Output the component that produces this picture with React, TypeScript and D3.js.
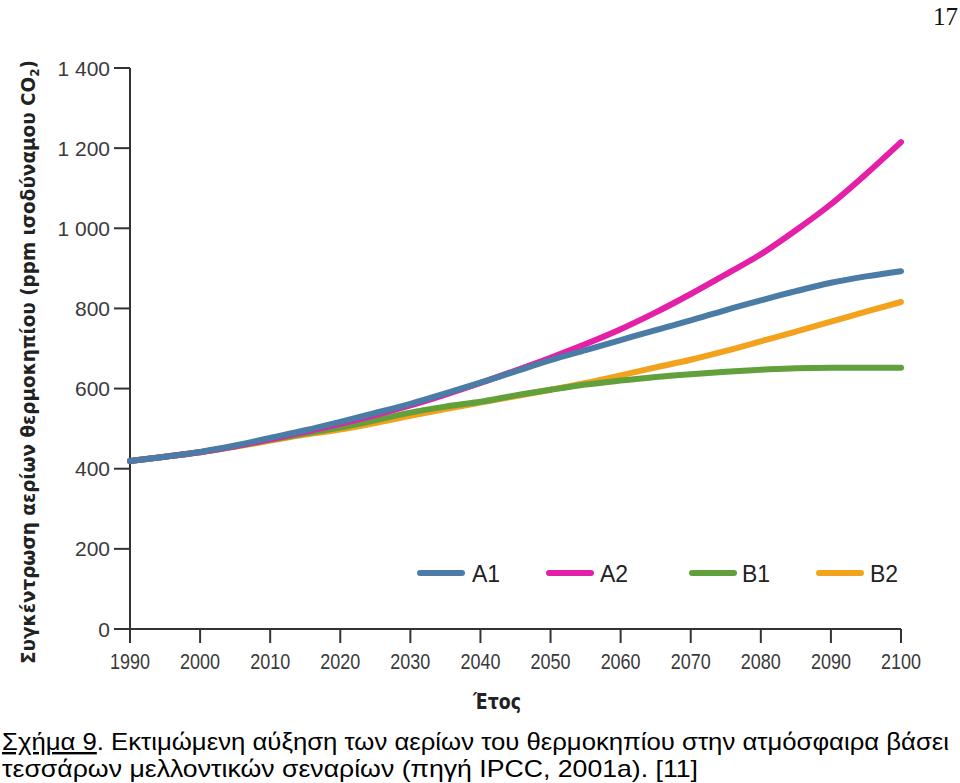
import React from "react";
import * as d3 from "d3";

const years = [1990, 1995, 2000, 2005, 2010, 2015, 2020, 2025, 2030, 2035, 2040, 2045, 2050, 2055, 2060, 2065, 2070, 2075, 2080, 2085, 2090, 2095, 2100];
const a1 = [419, 430, 442, 458, 477, 496, 517, 539, 562, 588, 615, 643, 671, 696, 721, 746, 770, 796, 820, 843, 864, 880, 893];
const a2 = [419, 430, 441, 456, 474, 492, 512, 534, 558, 585, 614, 645, 677, 711, 748, 790, 836, 885, 935, 995, 1060, 1135, 1215];
const b1 = [419, 430, 441, 456, 472, 488, 503, 521, 540, 555, 567, 583, 597, 610, 620, 629, 636, 642, 647, 651, 652, 652, 652];
const b2 = [419, 430, 441, 455, 470, 485, 498, 514, 532, 549, 565, 581, 597, 614, 633, 653, 672, 694, 718, 742, 767, 792, 816];

const seriesNames = ["A1", "A2", "B1", "B2"];
const seriesColors = ["#4a7ca6", "#e520a8", "#62a03c", "#f3a21e"];
const seriesValues = [a1, a2, b1, b2];
const drawOrder = [3, 2, 1, 0];

const xTicks = [1990, 2000, 2010, 2020, 2030, 2040, 2050, 2060, 2070, 2080, 2090, 2100];
const yTicks = [0, 200, 400, 600, 800, 1000, 1200, 1400];

const yTitle = "Συγκέντρωση αερίων θερμοκηπίου (ppm ισοδύναμου CO";
const xTitle = "Έτος";
const captionA = "Σχήμα 9";
const captionB = ". Εκτιμώμενη αύξηση των αερίων του θερμοκηπίου στην ατμόσφαιρα βάσει";
const captionLine2 = "τεσσάρων μελλοντικών σεναρίων (πηγή IPCC, 2001a). [11]";
const pageNumber = "17";

const legendPos = [
  { x1: 420, x2: 462, tx: 472 },
  { x1: 549, x2: 591, tx: 600 },
  { x1: 692, x2: 734, tx: 742 },
  { x1: 819, x2: 861, tx: 870 },
];

export default function App() {
  const x = d3.scaleLinear().domain([1990, 2100]).range([130, 901]);
  const y = d3.scaleLinear().domain([0, 1400]).range([629, 68]);
  const fmt = d3
    .formatLocale({ thousands: " ", grouping: [3], decimal: ",", currency: ["", ""] })
    .format(",");
  const line = d3
    .line<number>()
    .x((_, i) => x(years[i]))
    .y((d) => y(d))
    .curve(d3.curveMonotoneX);

  const axisColor = "#333";
  return (
    <svg
      width={960}
      height={783}
      style={{ position: "absolute", left: 0, top: 0, background: "#fff" }}
    >
      <rect x={0} y={0} width={960} height={783} fill="#fff" />
      {/* page number */}
      <text x={958} y={25} textAnchor="end" fontFamily="Liberation Serif, serif" fontSize={25} fill="#111">
        {pageNumber}
      </text>

      {/* y axis title */}
      <text
        transform="translate(35,362) rotate(-90)"
        textAnchor="middle"
        fontFamily="DejaVu Sans, sans-serif"
        fontWeight="bold"
        fontSize={20}
        fill="#222"
        textLength={604}
        lengthAdjust="spacingAndGlyphs"
      >
        {yTitle}
        <tspan fontSize={13} dy={4}>2</tspan>
        <tspan dy={-4}>)</tspan>
      </text>

      {/* axes */}
      <line x1={130} x2={130} y1={y(1400)} y2={y(0)} stroke={axisColor} strokeWidth={2} />
      <line x1={130} x2={901} y1={y(0)} y2={y(0)} stroke={axisColor} strokeWidth={2} />
      {yTicks.map((t) => (
        <g key={t}>
          <line x1={114} x2={130} y1={y(t)} y2={y(t)} stroke={axisColor} strokeWidth={2} />
          <text
            x={110}
            y={y(t)}
            dy="0.36em"
            textAnchor="end"
            fontFamily="Liberation Sans, Arial, sans-serif"
            fontSize={21}
            fill="#3a3a3a"
          >
            {fmt(t)}
          </text>
        </g>
      ))}
      {xTicks.map((t) => (
        <g key={t}>
          <line x1={x(t)} x2={x(t)} y1={y(0)} y2={y(0) + 14} stroke={axisColor} strokeWidth={2} />
          <text
            x={x(t)}
            y={669}
            textAnchor="middle"
            fontFamily="Liberation Sans, Arial, sans-serif"
            fontSize={22}
            fill="#3a3a3a"
            textLength={40}
            lengthAdjust="spacingAndGlyphs"
          >
            {t}
          </text>
        </g>
      ))}
      <text
        x={497}
        y={709}
        textAnchor="middle"
        fontFamily="DejaVu Sans, sans-serif"
        fontWeight="bold"
        fontSize={22}
        fill="#222"
        textLength={48}
        lengthAdjust="spacingAndGlyphs"
      >
        {xTitle}
      </text>

      {/* series */}
      {drawOrder.map((i) => (
        <path
          key={seriesNames[i]}
          d={line(seriesValues[i]) || ""}
          fill="none"
          stroke={seriesColors[i]}
          strokeWidth={6}
          strokeLinecap="round"
          strokeLinejoin="round"
        />
      ))}

      {/* legend */}
      {seriesNames.map((n, i) => (
        <g key={n}>
          <line
            x1={legendPos[i].x1}
            x2={legendPos[i].x2}
            y1={573}
            y2={573}
            stroke={seriesColors[i]}
            strokeWidth={6}
            strokeLinecap="round"
          />
          <text
            x={legendPos[i].tx}
            y={582}
            fontFamily="Liberation Sans, Arial, sans-serif"
            fontSize={23}
            fill="#222"
          >
            {n}
          </text>
        </g>
      ))}

      {/* caption */}
      <text
        x={2}
        y={750}
        fontFamily="Liberation Sans, Arial, sans-serif"
        fontSize={24}
        fill="#000"
        textLength={947}
        lengthAdjust="spacingAndGlyphs"
      >
        <tspan style={{ textDecoration: "underline" }}>{captionA}</tspan>
        <tspan>{captionB}</tspan>
      </text>
      <text
        x={2}
        y={777}
        fontFamily="Liberation Sans, Arial, sans-serif"
        fontSize={24}
        fill="#000"
        textLength={696}
        lengthAdjust="spacingAndGlyphs"
      >
        {captionLine2}
      </text>
    </svg>
  );
}
